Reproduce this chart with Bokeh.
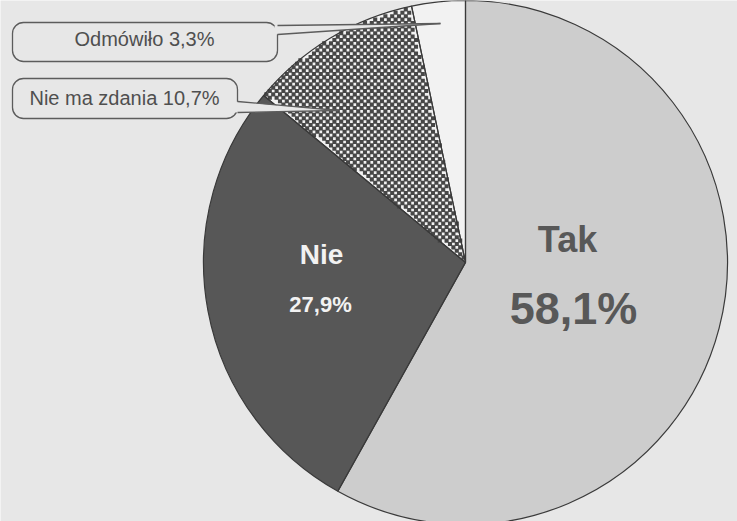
import math
import numpy as np
from bokeh.plotting import figure
from bokeh.models import Range1d, ColumnDataSource
from bokeh.core.properties import value
from bokeh.embed import file_html
from bokeh.resources import INLINE

# ---- data ----
categories = ["Tak", "Nie", "Nie ma zdania", "Odmówiło"]
shares = [58.1, 27.9, 10.7, 3.3]
share_labels = ["58,1%", "27,9%", "10,7%", "3,3%"]

# ---- styles ----
BG = "#e7e7e7"
fills = ["#cdcdcd", "#575757", "#f2f2f2", "#f2f2f2"]
checkered = [False, False, True, False]
EDGE = "#3a3a3a"
CHECK_DARK = "#474747"
CELL = 3.4
FONT = value("Liberation Sans")
BASE_SHIFT = 0.38  # baseline correction (fraction of font size)

W, H = 737, 521
p = figure(width=W, height=H, x_range=Range1d(0, W), y_range=Range1d(-H, 0),
           output_backend="svg", toolbar_location=None, min_border=0)
p.axis.visible = False
p.grid.visible = False
p.outline_line_color = None
p.background_fill_color = BG
p.border_fill_color = BG

# ---- pie ----
cx, cy, R = 465, -262, 262
starts, ends = [], []
cum = 0.0
for s in shares:
    starts.append(math.pi / 2 - 2 * math.pi * cum / 100.0)
    cum += s
    ends.append(math.pi / 2 - 2 * math.pi * cum / 100.0)

src = ColumnDataSource(dict(start=starts, end=ends, fill=fills, cat=categories))
p.wedge(x=cx, y=cy, radius=R, start_angle="start", end_angle="end", direction="clock",
        source=src, fill_color="fill", line_color=None)

# checker texture for the marked slices (fill style)
cum = 0.0
for s, chk in zip(shares, checkered):
    a0, a1 = cum * 3.6, (cum + s) * 3.6
    cum += s
    if not chk:
        continue
    xs = np.arange(cx - R, cx + R, CELL) + CELL / 2
    ys = np.arange(cy - R, cy + R, CELL) + CELL / 2
    gx, gy = np.meshgrid(np.arange(len(xs)), np.arange(len(ys)))
    X, Y = xs[gx], ys[gy]
    dx, dy = X - cx, Y - cy
    theta = np.degrees(np.arctan2(dx, dy)) % 360
    mask = ((gx + gy) % 2 == 0) & (np.hypot(dx, dy) < R - 1) & (theta > a0 + 0.4) & (theta < a1 - 0.4)
    p.rect(x=X[mask], y=Y[mask], width=CELL + 0.7, height=CELL + 0.7, fill_color=CHECK_DARK,
           line_color=None)

p.wedge(x=cx, y=cy, radius=R, start_angle="start", end_angle="end", direction="clock",
        source=src, fill_color=None, line_color=EDGE, line_width=1.2)


def label(x, baseline, txt, size, color, bold=True):
    p.text(x=[x], y=[-(baseline - BASE_SHIFT * size)], text=[txt], text_font=FONT,
           text_font_style="bold" if bold else "normal", text_font_size=f"{size}px",
           text_color=color, text_align="center", text_baseline="alphabetic")


# ---- inner labels ----
label(567, 253, categories[0], 36, "#585858")
label(573, 325, share_labels[0], 45, "#585858")
label(321, 265, categories[1], 28, "#f2f2f2")
label(320, 312, share_labels[1], 22, "#f2f2f2")

# ---- callouts ----
BOX = "#5c5c5c"
callouts = [
    # (category index, left, right, top, bottom, base_top, base_bottom, tip_x, tip_y, text_x, baseline)
    (3, 12, 277, 22, 61, 25, 34, 440, 23, 144, 46),
    (2, 12, 237, 78, 118, 101, 112, 338, 110, 124, 105),
]
for idx, l, r, t, b, bt, bb, tx, ty, txt_x, base in callouts:
    p.quad(left=[l], right=[r], top=[-t], bottom=[-b], fill_color=BG, line_color=BOX,
           line_width=1.3, border_radius=11)
    p.patch(x=[r - 3, tx, r - 3], y=[-bt, -ty, -bb], fill_color=BG, line_color=None)
    p.segment(x0=[r, r], y0=[-bt, -bb], x1=[tx, tx], y1=[-ty, -ty], line_color=BOX, line_width=1.3)
    label(txt_x, base, f"{categories[idx]} {share_labels[idx]}", 20, "#4f4f4f", bold=False)

open("out.html", "w").write(file_html(p, INLINE))
